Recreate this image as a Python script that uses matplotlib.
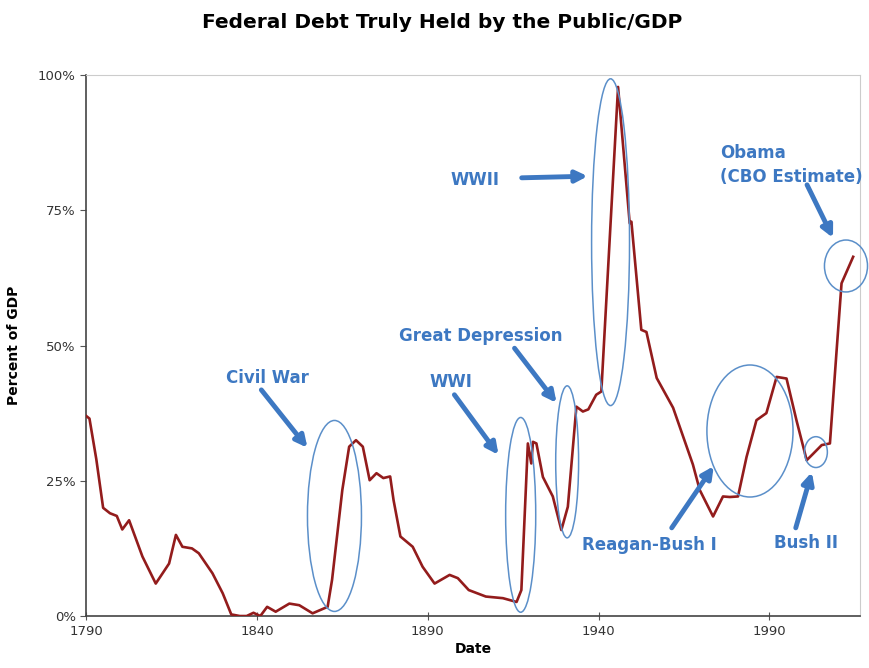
import matplotlib.pyplot as plt
from matplotlib.patches import Ellipse

# Debt held by the public, percent of GDP
years = [1790, 1791, 1793, 1795, 1797, 1799, 1800.6, 1802.6, 1806.5, 1810.4,
         1814.3, 1816.3, 1818.2, 1821, 1823, 1827, 1830, 1832.5, 1835, 1837,
         1839, 1841, 1843, 1845.5, 1849.5, 1852.4, 1856.3, 1860.7, 1862, 1865,
         1867, 1869, 1871, 1873, 1875, 1877, 1879, 1880, 1882, 1885.6,
         1888.5, 1892, 1896.4, 1898.8, 1902, 1907, 1912, 1916, 1917.4, 1919.3,
         1920.3, 1920.8, 1921.8, 1923.7, 1926.6, 1929.1, 1931, 1933.5, 1935.4, 1937,
         1939.3, 1940.8, 1945.7, 1949.1, 1949.6, 1952.5, 1954, 1957, 1961.8, 1967.6,
         1969.6, 1973.5, 1976.4, 1978.4, 1980.8, 1983.3, 1986.2, 1989.1, 1992.1, 1995,
         1997.9, 2000.9, 2002.8, 2005.3, 2007.7, 2009.6, 2011.1, 2014.5]
debt = [37, 36.5, 29, 20, 19, 18.5, 16, 17.7, 11, 6,
        9.7, 15, 12.8, 12.5, 11.6, 7.9, 4.2, 0.3, 0, 0,
        0.6, 0, 1.7, 0.8, 2.3, 2.0, 0.5, 1.7, 6.7, 23.3,
        31.3, 32.5, 31.3, 25.1, 26.4, 25.5, 25.8, 21.4, 14.7, 12.8,
        9.1, 6, 7.6, 7, 4.8, 3.6, 3.3, 2.6, 4.8, 31.9,
        28.2, 32.2, 31.9, 25.7, 22.1, 15.9, 20.2, 38.7, 37.8, 38.2,
        40.9, 41.5, 97.8, 72.6, 72.9, 52.9, 52.5, 44, 38.5, 28,
        23.3, 18.4, 22.1, 22, 22.1, 29.4, 36.2, 37.5, 44.2, 43.9,
        36.2, 28.8, 30, 31.6, 31.9, 48.6, 61.5, 66.4]

# Annotations: label, text position, arrow tail, arrow head, ellipse (center, w, h)
labels = ["Civil War", "WWI", "Great Depression", "WWII",
          "Obama\n(CBO Estimate)", "Reagan-Bush I", "Bush II"]
text_pos = [(1843, 44.0), (1896.9, 43.3), (1905.4, 51.8), (1903.7, 80.6),
            (1975.5, 83.4), (1955, 13.1), (2000.7, 13.5)]
arrow_tail = [(1841.3, 41.8), (1897.8, 40.9), (1915.4, 49.5), (1917.5, 81.0),
              (2001, 79.7), (1961.4, 16.3), (1997.7, 16.3)]
arrow_head = [(1854.8, 31.1), (1910.7, 29.8), (1927.7, 39.4), (1936.8, 81.3),
              (2008.6, 69.9), (1973.7, 27.7), (2002.4, 26.6)]
ellipses = [((1862.7, 18.5), 15.8, 35.3), ((1917.2, 18.7), 8.8, 36),
            ((1930.8, 28.5), 6.7, 28.1), ((1943.5, 69.1), 11.1, 60.4),
            ((2012.4, 64.7), 12.6, 9.6), ((1984.3, 34.2), 25.2, 24.4),
            ((2003.6, 30.3), 6.7, 5.7)]

blue = '#3d78c2'

fig = plt.figure(figsize=(8.7, 6.68), dpi=100)
ax = fig.add_axes([0.0989, 0.0778, 0.8896, 0.8099])

ax.plot(years, debt, color='#931c1c', lw=1.9, zorder=3)

for lab, tp, tail, head, ell in zip(labels, text_pos, arrow_tail, arrow_head, ellipses):
    ha = 'left' if '\n' in lab else 'center'
    ax.text(tp[0], tp[1], lab, color=blue, fontsize=12, fontweight='bold',
            ha=ha, va='center', linespacing=1.45)
    ax.annotate('', xy=head, xytext=tail,
                arrowprops=dict(arrowstyle='-|>', color=blue, lw=3.5,
                                mutation_scale=17, shrinkA=0, shrinkB=0))
    e = Ellipse(ell[0], ell[1], ell[2], fill=False, edgecolor='#5b8fc9',
                lw=1.1, clip_on=False, zorder=4)
    ax.add_patch(e)

ax.set_xlim(1790, 2016.5)
ax.set_ylim(0, 100)
ax.set_xticks([1790, 1840, 1890, 1940, 1990])
ax.set_yticks([0, 25, 50, 75, 100])
ax.set_yticklabels(['0%', '25%', '50%', '75%', '100%'])
ax.tick_params(axis='both', labelsize=9.5, labelcolor='#333333', color='#555555',
               length=4, direction='out')
ax.tick_params(axis='x', direction='inout', length=6)

for side in ['left', 'bottom']:
    ax.spines[side].set_color('#444444')
    ax.spines[side].set_linewidth(1.2)
for side in ['top', 'right']:
    ax.spines[side].set_color('#cccccc')
    ax.spines[side].set_linewidth(0.8)

ax.set_xlabel('Date', fontsize=10, fontweight='bold', labelpad=3)
ax.set_ylabel('Percent of GDP', fontsize=10, fontweight='bold', labelpad=12)
fig.suptitle('Federal Debt Truly Held by the Public/GDP', x=0.508, y=0.967,
             va='center', fontsize=14.5, fontweight='bold')

fig.savefig('out.png', dpi=100)
